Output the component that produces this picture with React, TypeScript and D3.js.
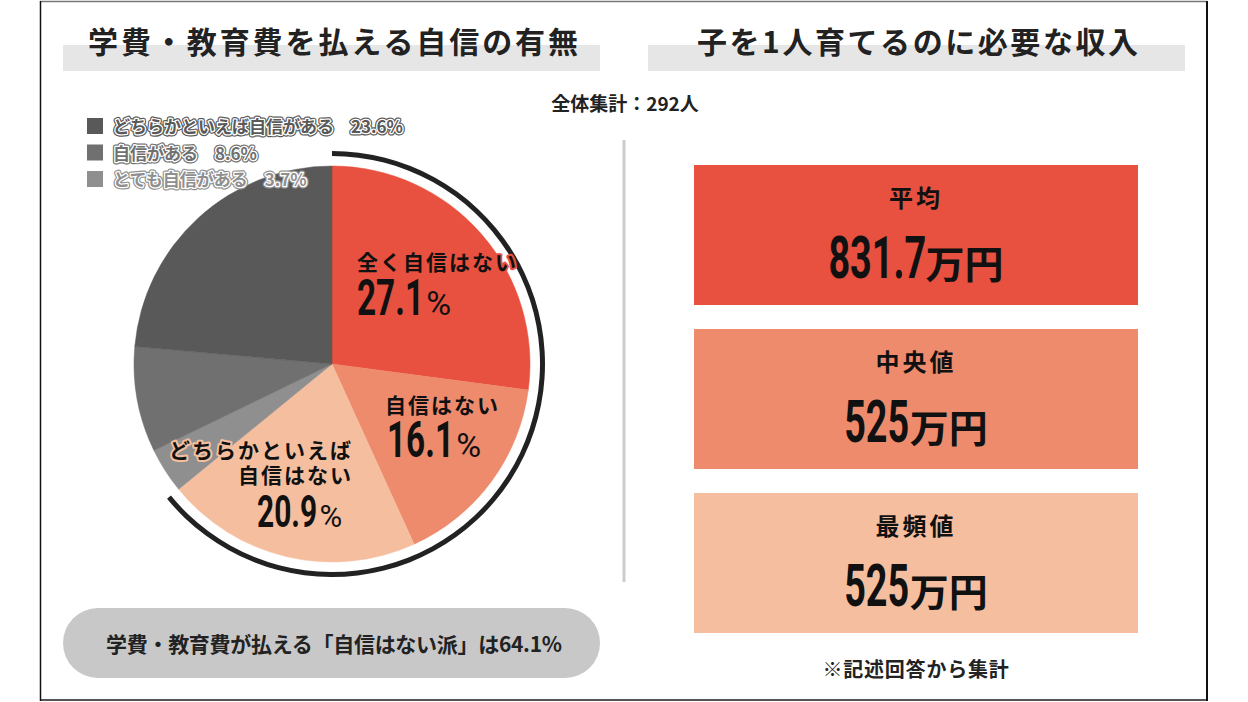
import React from "react";
import * as d3 from "d3";

const categories = [
  "全く自信はない",
  "自信はない",
  "どちらかといえば自信はない",
  "とても自信がある",
  "自信がある",
  "どちらかといえば自信がある",
];
const shares = [27.1, 16.1, 20.9, 3.7, 8.6, 23.6];
const sliceColors = ["#E8503F", "#EE8B6D", "#F5BF9F", "#8F8F8F", "#707070", "#595959"];
const legendOrder = [5, 4, 3];
const highlightCount = 3; // first three slices = 自信はない派
const statLabels = ["平均", "中央値", "最頻値"];
const statValues = ["831.7", "525", "525"];
const statUnit = "万円";
const statColors = ["#E8503F", "#EE8B6D", "#F5BF9F"];
const totalCount = 292;

const JP = "'Noto Sans CJK JP', 'Noto Sans', sans-serif";
const NUM = "Roboto, 'Liberation Sans', sans-serif";

const W = 1248;
const H = 702;
const cx = 332;
const cy = 364;
const R = 198;

// label layout (relative to pie center) per highlighted slice
const labelLayout = [
  { lines: ["全く自信はない"], x: 25, anchor: "start", y0: -94, numY: -49, numX: 25, halo: "#E8503F", size: 49 },
  { lines: ["自信はない"], x: 53, anchor: "start", y0: 49, numY: 93, numX: 55, halo: "#EE8B6D", size: 49 },
  { lines: ["どちらかといえば", "自信はない"], x: 21, anchor: "end", y0: 94, numY: 163, numX: -75, halo: "#F5BF9F", size: 44 },
];

// Roboto Bold advance widths in em
function numAdvance(s: string) {
  let w = 0;
  for (const ch of s) w += ch === "." ? 0.27 : 0.562;
  return w;
}

export default function App() {
  const pie = d3.pie<number>().sort(null).value((d) => d)(shares);
  const arc = d3.arc<d3.PieArcDatum<number>>().innerRadius(0).outerRadius(R);
  const total = d3.sum(shares);
  const highlightShare = d3.sum(shares.slice(0, highlightCount));
  const angle = d3.scaleLinear().domain([0, total]).range([0, 2 * Math.PI]);
  const outerArc = d3
    .arc()
    .innerRadius(208)
    .outerRadius(213)
    .startAngle(0)
    .endAngle(angle(highlightShare));

  const boxX = 694;
  const boxW = 444;
  const boxH = 140;
  const boxY = d3.scaleLinear().domain([0, 1]).range([165, 329]);
  const boxCx = boxX + boxW / 2;
  const sx = 0.68; // condensed numerals

  return (
    <svg width={W} height={H} style={{ position: "absolute", left: 0, top: 0, background: "#fff" }}>
      <rect x={0} y={0} width={W} height={H} fill="#fff" />
      {/* frame */}
      <line x1={40} y1={1.5} x2={1207} y2={1.5} stroke="#777" strokeWidth={1.5} />
      <line x1={40} y1={700} x2={1207} y2={700} stroke="#555" strokeWidth={2} />
      <line x1={40.5} y1={1} x2={40.5} y2={701} stroke="#111" strokeWidth={1.5} />
      <line x1={1207} y1={1} x2={1207} y2={701} stroke="#111" strokeWidth={2} />

      {/* titles */}
      <rect x={63} y={45} width={537} height={26} fill="#E6E6E6" />
      <rect x={648} y={45} width={537} height={26} fill="#E6E6E6" />
      <text x={88} y={53} fontFamily={JP} fontWeight={700} fontSize={30} fill="#222" textLength={490} lengthAdjust="spacing">
        学費・教育費を払える自信の有無
      </text>
      <text x={697} y={53} fontFamily={JP} fontWeight={700} fontSize={30} fill="#222" textLength={441} lengthAdjust="spacing">
        子を1人育てるのに必要な収入
      </text>

      <text x={625} y={111} textAnchor="middle" fontFamily={JP} fontWeight={700} fontSize={19} fill="#222">
        全体集計：{totalCount}人
      </text>

      {/* divider */}
      <line x1={624} y1={140} x2={624} y2={582} stroke="#CCCCCC" strokeWidth={3} />

      {/* pie */}
      <g transform={`translate(${cx},${cy})`}>
        {pie.map((p, i) => (
          <path key={i} d={arc(p) as string} fill={sliceColors[i]} stroke={sliceColors[i]} strokeWidth={0.5} />
        ))}
        <path d={outerArc(null as any) as string} fill="#222" />
        {labelLayout.map((L, i) => {
          const val = shares[i].toFixed(1);
          const dwid = numAdvance(val) * L.size * sx;
          return (
            <g key={i}>
              {L.lines.map((ln, j) => (
                <text
                  key={j}
                  x={L.x}
                  y={L.y0 + j * 25}
                  textAnchor={L.anchor as any}
                  fontFamily={JP}
                  fontWeight={700}
                  fontSize={21}
                  letterSpacing={2}
                  fill="#111"
                  stroke={L.halo}
                  strokeWidth={4}
                  paintOrder="stroke"
                  strokeLinejoin="round"
                >
                  {ln}
                </text>
              ))}
              <g transform={`translate(${L.numX},${L.numY}) scale(${sx},1)`}>
                <text x={0} y={0} fontFamily={NUM} fontWeight={700} fontSize={L.size} fill="#111">
                  {val}
                </text>
              </g>
              <text x={L.numX + dwid + 4} y={L.numY} fontFamily={NUM} fontWeight={400} fontSize={i === 2 ? 31 : 34} fill="#111">
                %
              </text>
            </g>
          );
        })}
      </g>

      {/* legend */}
      {legendOrder.map((idx, r) => {
        const y = 118 + r * 26.5;
        const txt = `${categories[idx]}　${shares[idx]}%`;
        const col = sliceColors[idx];
        return (
          <g key={idx}>
            <rect x={87} y={y} width={16} height={16} fill={col} />
            <text x={113} y={y + 15} fontFamily={JP} fontWeight={700} fontSize={17} fill="none" stroke={col} strokeWidth={5} strokeLinejoin="round">
              {txt}
            </text>
            <text x={113} y={y + 15} fontFamily={JP} fontWeight={700} fontSize={17} fill={col} stroke="#fff" strokeWidth={2.6} paintOrder="stroke" strokeLinejoin="round">
              {txt}
            </text>
          </g>
        );
      })}

      {/* pill */}
      <rect x={63} y={608} width={537} height={70} rx={35} fill="#C8C8C8" />
      <text x={106} y={652} fontFamily={JP} fontWeight={700} fontSize={21} fill="#222" textLength={456} lengthAdjust="spacing">
        学費・教育費が払える「自信はない派」は{highlightShare.toFixed(1)}%
      </text>

      {/* stat boxes */}
      {statLabels.map((lab, i) => {
        const y = boxY(i);
        const v = statValues[i];
        const fs = 60;
        const dw = numAdvance(v) * fs * 0.63;
        const unitW = 78;
        const totalW = dw + 2 + unitW;
        const x0 = boxCx - totalW / 2;
        return (
          <g key={i}>
            <rect x={boxX} y={y} width={boxW} height={boxH} fill={statColors[i]} />
            <text x={boxCx} y={y + 42} textAnchor="middle" fontFamily={JP} fontWeight={700} fontSize={24} letterSpacing={3} fill="#111">
              {lab}
            </text>
            <g transform={`translate(${x0},${y + 113}) scale(0.63,1)`}>
              <text x={0} y={0} fontFamily={NUM} fontWeight={700} fontSize={fs} fill="#111">
                {v}
              </text>
            </g>
            <text x={x0 + dw + 2} y={y + 113} fontFamily={JP} fontWeight={700} fontSize={38} fill="#111" textLength={unitW} lengthAdjust="spacingAndGlyphs">
              {statUnit}
            </text>
          </g>
        );
      })}

      <text x={916} y={677} textAnchor="middle" fontFamily={JP} fontWeight={700} fontSize={20} letterSpacing={0.8} fill="#222">
        ※記述回答から集計
      </text>
    </svg>
  );
}
